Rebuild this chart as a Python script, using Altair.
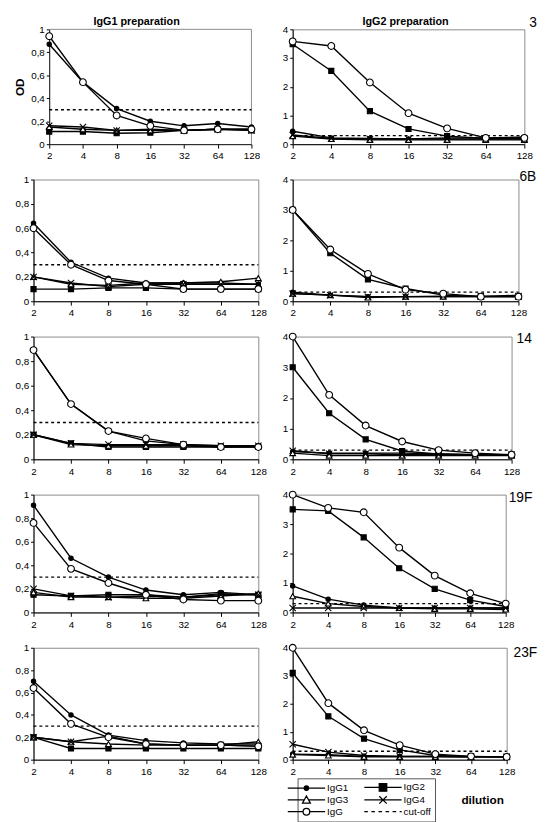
import altair as alt
import pandas as pd

FONT = "Liberation Sans"

dilutions = [2, 4, 8, 16, 32, 64, 128]
series_names = ["IgG1", "IgG2", "IgG3", "IgG4", "IgG"]
legend_names = ["IgG1", "IgG2", "IgG3", "IgG4", "IgG", "cut-off"]
serotypes = ["3", "6B", "14", "19F", "23F"]
column_titles = ["IgG1 preparation", "IgG2 preparation"]
cutoff = 0.3
left_y_ticks = [0, 0.2, 0.4, 0.6, 0.8, 1]
right_y_ticks = [0, 1, 2, 3, 4]

# ---- IgG1 preparation (left column), OD per dilution ----
left_3 = {
    "IgG1": [0.87, 0.54, 0.31, 0.20, 0.16, 0.18, 0.15],
    "IgG2": [0.11, 0.11, 0.095, 0.10, 0.12, 0.13, 0.12],
    "IgG3": [0.15, 0.13, 0.12, 0.12, 0.12, 0.13, 0.13],
    "IgG4": [0.16, 0.15, 0.12, 0.13, 0.12, 0.13, 0.12],
    "IgG": [0.94, 0.54, 0.25, 0.16, 0.12, 0.13, 0.13],
}
left_6B = {
    "IgG1": [0.64, 0.32, 0.19, 0.15, 0.15, 0.15, 0.14],
    "IgG2": [0.10, 0.10, 0.11, 0.11, 0.10, 0.10, 0.10],
    "IgG3": [0.20, 0.14, 0.13, 0.15, 0.15, 0.16, 0.19],
    "IgG4": [0.20, 0.15, 0.12, 0.14, 0.14, 0.14, 0.14],
    "IgG": [0.60, 0.30, 0.17, 0.14, 0.10, 0.10, 0.10],
}
left_14 = {
    "IgG1": [0.89, 0.45, 0.23, 0.15, 0.12, 0.11, 0.11],
    "IgG2": [0.20, 0.13, 0.10, 0.10, 0.10, 0.10, 0.10],
    "IgG3": [0.20, 0.12, 0.11, 0.11, 0.11, 0.10, 0.11],
    "IgG4": [0.20, 0.13, 0.12, 0.12, 0.12, 0.11, 0.11],
    "IgG": [0.89, 0.45, 0.23, 0.17, 0.12, 0.10, 0.10],
}
left_19F = {
    "IgG1": [0.91, 0.46, 0.30, 0.19, 0.15, 0.17, 0.15],
    "IgG2": [0.15, 0.14, 0.15, 0.15, 0.13, 0.16, 0.15],
    "IgG3": [0.17, 0.13, 0.13, 0.12, 0.12, 0.14, 0.16],
    "IgG4": [0.20, 0.14, 0.13, 0.14, 0.13, 0.15, 0.15],
    "IgG": [0.76, 0.37, 0.25, 0.15, 0.11, 0.10, 0.10],
}
left_23F = {
    "IgG1": [0.70, 0.40, 0.22, 0.17, 0.15, 0.14, 0.14],
    "IgG2": [0.20, 0.10, 0.10, 0.10, 0.10, 0.10, 0.10],
    "IgG3": [0.20, 0.16, 0.14, 0.13, 0.13, 0.13, 0.16],
    "IgG4": [0.20, 0.16, 0.21, 0.14, 0.13, 0.13, 0.12],
    "IgG": [0.64, 0.32, 0.20, 0.14, 0.13, 0.13, 0.12],
}

# ---- IgG2 preparation (right column) ----
right_3 = {
    "IgG1": [0.45, 0.22, 0.20, 0.18, 0.22, 0.22, 0.25],
    "IgG2": [3.48, 2.55, 1.15, 0.53, 0.28, 0.20, 0.20],
    "IgG3": [0.28, 0.18, 0.15, 0.15, 0.15, 0.15, 0.15],
    "IgG4": [0.32, 0.20, 0.18, 0.18, 0.18, 0.18, 0.18],
    "IgG": [3.58, 3.42, 2.15, 1.08, 0.55, 0.22, 0.22],
}
right_6B = {
    "IgG1": [0.30, 0.20, 0.15, 0.15, 0.15, 0.15, 0.20],
    "IgG2": [3.00, 1.58, 0.72, 0.42, 0.20, 0.15, 0.15],
    "IgG3": [0.25, 0.20, 0.12, 0.15, 0.15, 0.15, 0.15],
    "IgG4": [0.25, 0.20, 0.15, 0.15, 0.17, 0.17, 0.17],
    "IgG": [3.00, 1.70, 0.90, 0.38, 0.25, 0.15, 0.15],
}
right_14 = {
    "IgG1": [0.25, 0.20, 0.20, 0.20, 0.18, 0.15, 0.15],
    "IgG2": [3.00, 1.50, 0.65, 0.27, 0.17, 0.15, 0.15],
    "IgG3": [0.20, 0.12, 0.12, 0.12, 0.12, 0.12, 0.12],
    "IgG4": [0.28, 0.18, 0.18, 0.15, 0.15, 0.15, 0.15],
    "IgG": [4.00, 2.10, 1.10, 0.58, 0.30, 0.20, 0.15],
}
right_19F = {
    "IgG1": [0.90, 0.45, 0.25, 0.15, 0.15, 0.15, 0.15],
    "IgG2": [3.50, 3.45, 2.55, 1.50, 0.80, 0.42, 0.20],
    "IgG3": [0.55, 0.30, 0.20, 0.15, 0.12, 0.12, 0.10],
    "IgG4": [0.15, 0.15, 0.15, 0.15, 0.15, 0.15, 0.15],
    "IgG": [4.00, 3.55, 3.40, 2.20, 1.25, 0.65, 0.30],
}
right_23F = {
    "IgG1": [0.20, 0.18, 0.12, 0.12, 0.12, 0.10, 0.10],
    "IgG2": [3.10, 1.55, 0.75, 0.35, 0.15, 0.12, 0.10],
    "IgG3": [0.18, 0.15, 0.10, 0.10, 0.10, 0.10, 0.10],
    "IgG4": [0.55, 0.27, 0.15, 0.12, 0.12, 0.10, 0.10],
    "IgG": [4.00, 2.02, 1.05, 0.52, 0.20, 0.12, 0.10],
}

# marker styling
X_PATH = "M-1,-1L1,1M-1,1L1,-1"
marker_shapes = ["circle", "square", "triangle-up", X_PATH, "circle"]
marker_fills = ["black", "black", "white", "white", "white"]
marker_sizes = [20, 48, 58, 48, 52]

legend_shapes = [
    "M-4.75,0H4.75M0.55,0A0.55,0.55 0 1,1 -0.55,0A0.55,0.55 0 1,1 0.55,0Z",
    "M-4.75,0H4.75M-0.95,-0.95H0.95V0.95H-0.95Z",
    "M-4.75,0H-0.55M0.55,0H4.75M0,-1L1,0.8H-1Z",
    "M-4.75,0H4.75M-0.95,-0.95L0.95,0.95M-0.95,0.95L0.95,-0.95",
    "M-4.75,0H-0.85M0.85,0H4.75M0.85,0A0.85,0.85 0 1,1 -0.85,0A0.85,0.85 0 1,1 0.85,0Z",
    "M-4.75,0H-3.85M-2.95,0H-2.05M-1.15,0H-0.25M0.65,0H1.55M2.45,0H3.35M4.25,0H4.75",
]
legend_fills = ["black", "black", "white", "white", "white", "white"]

GRAY = "#8a8a8a"


def to_long(values):
    rows = []
    for s in series_names:
        for d, v in zip(dilutions, values[s]):
            rows.append({"dilution": d, "od": v, "series": s})
    return pd.DataFrame(rows)


def panel(values, ymax, ticks, width, height, left=True, serotype=None,
          sero_dx=2, sero_dy=0, title=None, title_dx=0, y_title=None,
          with_legend=False, inset=0):
    df = to_long(values)
    if left:
        yaxis = alt.Axis(values=ticks, tickCount=len(ticks), labelOverlap=False,
                         labelSeparation=0,
                         labelExpr="replace(format(datum.value, '~g'), '.', ',')",
                         title=y_title, titleFontSize=12, titleFontWeight="bold",
                         titleFont=FONT, titlePadding=4, titleColor="black",
                         offset=-inset)
    else:
        yaxis = alt.Axis(values=ticks, tickCount=len(ticks), labelOverlap=False,
                         labelSeparation=0, format="d", title=None)
    if with_legend:
        xaxis = alt.Axis(labelAngle=0, title="dilution", titleFont=FONT,
                         titleFontSize=12, titleFontWeight="bold", titleColor="black",
                         titleX=193, titleY=41, titleAlign="center",
                         titleBaseline="middle")
    else:
        xaxis = alt.Axis(labelAngle=0, title=None)
    if inset:
        xscale = alt.Scale(type="point", padding=0, domain=dilutions, range=[inset, width])
    else:
        xscale = alt.Scale(type="point", padding=0, domain=dilutions)
    x = alt.X("dilution:O", scale=xscale, axis=xaxis)
    y = alt.Y("od:Q", scale=alt.Scale(domain=[0, ymax], nice=False), axis=yaxis)

    layers = []
    lines = alt.Chart(df).mark_line(color="black", strokeWidth=1.4).encode(
        x=x, y=y, detail="series:N")
    layers.append(lines)
    if inset:
        box_top = alt.Chart(pd.DataFrame({"od": [ymax]})).mark_rule(
            color=GRAY, strokeWidth=1
        ).encode(x=alt.X(datum=dilutions[0], type="ordinal"),
                 x2=alt.X2(datum=dilutions[-1]), y=y)
        box_right = alt.Chart(pd.DataFrame({"od": [0], "top": [ymax]})).mark_rule(
            color=GRAY, strokeWidth=1
        ).encode(x=alt.X(datum=dilutions[-1], type="ordinal"), y=y, y2="top:Q")
        layers += [box_top, box_right]

    rule = alt.Chart(pd.DataFrame({"od": [cutoff]})).mark_rule(
        color="black", strokeDash=[3, 3], strokeWidth=1.4
    ).encode(x=alt.X(datum=dilutions[0], type="ordinal"),
             x2=alt.X2(datum=dilutions[-1]), y=y)
    points = alt.Chart(df).mark_point(
        filled=True, stroke="black", strokeWidth=1.1, opacity=1
    ).encode(
        x=x, y=y,
        shape=alt.Shape("series:N", scale=alt.Scale(domain=series_names, range=marker_shapes), legend=None),
        fill=alt.Fill("series:N", scale=alt.Scale(domain=series_names, range=marker_fills), legend=None),
        size=alt.Size("series:N", scale=alt.Scale(domain=series_names, range=marker_sizes), legend=None),
    )
    layers += [rule, points]
    if title is not None:
        ttl = alt.Chart(pd.DataFrame({"label": [title]})).mark_text(
            align="center", baseline="alphabetic", fontSize=11, fontWeight="bold",
            font=FONT, color="black", dx=title_dx, dy=-4
        ).encode(
            x=alt.X(datum=dilutions[3], type="ordinal"),
            y=alt.Y(datum=ymax, type="quantitative"),
            text="label:N",
        )
        layers.append(ttl)
    if serotype is not None:
        txt = alt.Chart(pd.DataFrame({"label": [serotype]})).mark_text(
            align="left", baseline="middle", fontSize=14, font=FONT, color="black",
            dx=sero_dx, dy=sero_dy
        ).encode(
            x=alt.X(datum=dilutions[-1], type="ordinal"),
            y=alt.Y(datum=ymax, type="quantitative"),
            text="label:N",
        )
        layers.append(txt)
    if with_legend:
        leg = alt.Legend(title=None, orient="none", legendX=5, legendY=133, columns=2,
                         direction="horizontal",
                         columnPadding=13, rowPadding=-1, symbolSize=64,
                         symbolStrokeWidth=1.3,
                         symbolOpacity=1, labelFontSize=10, labelFont=FONT,
                         labelColor="black", labelOffset=16, padding=4,
                         strokeColor="#555555", fillColor="white")
        legend_layer = alt.Chart(pd.DataFrame({"series": legend_names})).mark_point(
            filled=False, opacity=1, size=0, color="black", stroke="black", strokeWidth=1.3
        ).encode(
            fill=alt.Fill("series:N", scale=alt.Scale(domain=legend_names, range=legend_fills), legend=leg),
            shape=alt.Shape("series:N", scale=alt.Scale(domain=legend_names, range=legend_shapes), legend=leg),
        )
        layers.append(legend_layer)
    ch = alt.layer(*layers).properties(width=width, height=height)
    if inset:
        ch = ch.properties(view=alt.ViewBackground(stroke="transparent"))
    if with_legend:
        ch = ch.resolve_scale(shape="independent", fill="independent")
    return ch


L1 = panel(left_3, 1, left_y_ticks, 222, 117, True, title=column_titles[0], title_dx=-14,
           y_title="OD", inset=16)
R1 = panel(right_3, 4, right_y_ticks, 236, 117, False, serotype=serotypes[0], sero_dx=5, sero_dy=-6,
           title=column_titles[1], title_dx=-3)
L2 = panel(left_6B, 1, left_y_ticks, 229, 124, True)
R2 = panel(right_6B, 4, right_y_ticks, 230, 124, False, serotype=serotypes[1], sero_dx=1, sero_dy=-3)
L3 = panel(left_14, 1, left_y_ticks, 229, 125, True)
R3 = panel(right_14, 4, right_y_ticks, 223, 125, False, serotype=serotypes[2], sero_dx=5, sero_dy=3)
L4 = panel(left_19F, 1, left_y_ticks, 229, 120, True)
R4 = panel(right_19F, 4, right_y_ticks, 217, 120, False, serotype=serotypes[3], sero_dx=3, sero_dy=4)
L5 = panel(left_23F, 1, left_y_ticks, 229, 114, True)
R5 = panel(right_23F, 4, right_y_ticks, 218, 114, False, serotype=serotypes[4], sero_dx=7, sero_dy=5,
           with_legend=True)

chart = alt.concat(
    L1, R1, L2, R2, L3, R3, L4, R4, L5, R5,
    columns=2, spacing={"row": 36, "column": 35}, bounds="flush", align="each",
).properties(
    padding={"left": 5, "top": 0, "right": 5, "bottom": 5},
    background="white",
).configure_view(
    stroke=GRAY, strokeWidth=1
).configure_axis(
    grid=False, domainColor="black", domainWidth=1, tickColor="black", tickSize=3,
    labelFont=FONT, labelFontSize=10, labelColor="black", labelPadding=2,
    labelOverlap=False,
).configure_axisX(
    tickSize=4, labelPadding=3,
)

chart.save("out.html", embed_options={"renderer": "svg", "actions": False})
